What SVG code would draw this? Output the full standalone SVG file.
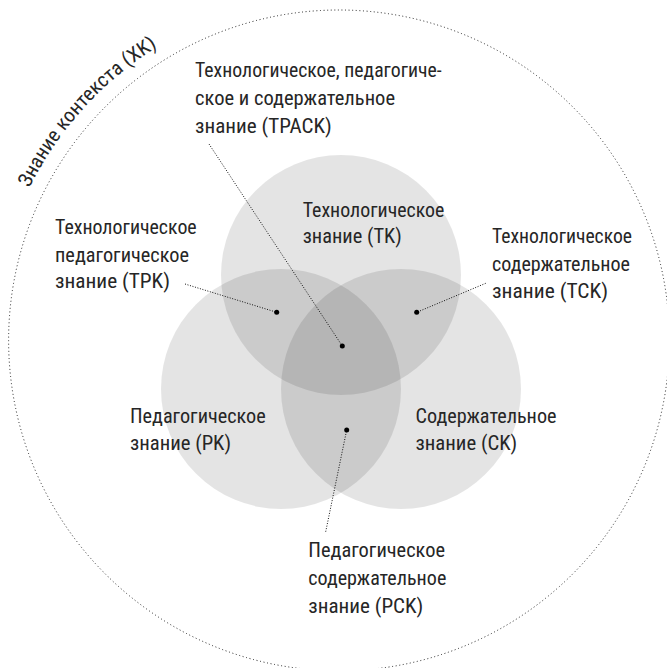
<svg xmlns="http://www.w3.org/2000/svg" width="667" height="668" viewBox="0 0 667 668">
<style>
  .t { font-family: 'Liberation Sans Narrow', 'Roboto Condensed', 'DejaVu Sans Condensed', 'Liberation Sans', sans-serif; font-size: 20px; fill: #262626; }
  .set { fill: #000; fill-opacity: 0.106; stroke: none; }
  .lead { fill: none; stroke: #111; stroke-width: 1; stroke-dasharray: 1 1.6; }
  .dot { fill: #000; }
  .ctx { fill: none; stroke: #222; stroke-width: 1; stroke-dasharray: 1 2.6; }
</style>
<defs>
  <path id="arcPath" d="M 29.4 188.1 A 345 345 0 0 1 221 16.2"/>
</defs>
<rect width="667" height="668" fill="#fff"/>

<g id="xk">
  <circle class="ctx" cx="339" cy="340.4" r="330.4"/>
  <text class="t"><textPath href="#arcPath" textLength="193" lengthAdjust="spacingAndGlyphs">Знание контекста (XK)</textPath></text>
</g>

<g id="tk">
  <circle class="set" cx="341" cy="275" r="120"/>
  <text class="t" x="302.7" y="216.7" textLength="141.7" lengthAdjust="spacingAndGlyphs">Технологическое</text>
  <text class="t" x="302.7" y="243.3" textLength="99" lengthAdjust="spacingAndGlyphs">знание (TK)</text>
</g>
<g id="pk">
  <circle class="set" cx="281" cy="389" r="120"/>
  <text class="t" x="130" y="423.3" textLength="135.7" lengthAdjust="spacingAndGlyphs">Педагогическое</text>
  <text class="t" x="130" y="450" textLength="101" lengthAdjust="spacingAndGlyphs">знание (PK)</text>
</g>
<g id="ck">
  <circle class="set" cx="401" cy="389" r="120"/>
  <text class="t" x="415.5" y="423.3" textLength="141" lengthAdjust="spacingAndGlyphs">Содержательное</text>
  <text class="t" x="415.5" y="450" textLength="101.7" lengthAdjust="spacingAndGlyphs">знание (CK)</text>
</g>

<g id="connectors">
  <line class="lead" x1="209" y1="144" x2="342.3" y2="346"/>
  <line class="lead" x1="185" y1="284" x2="276.7" y2="312.3"/>
  <line class="lead" x1="485.7" y1="283.3" x2="416.7" y2="312.3"/>
  <line class="lead" x1="325.7" y1="531.7" x2="346.7" y2="430"/>
  <circle class="dot" cx="342.3" cy="346" r="2.5"/>
  <circle class="dot" cx="276.7" cy="312.3" r="2.5"/>
  <circle class="dot" cx="416.7" cy="312.3" r="2.5"/>
  <circle class="dot" cx="346.7" cy="430" r="2.5"/>
</g>

<g id="tpack">
  <text class="t" x="195" y="76.7" textLength="246.7" lengthAdjust="spacingAndGlyphs">Технологическое, педагогиче-</text>
  <text class="t" x="195" y="105" textLength="200" lengthAdjust="spacingAndGlyphs">ское и содержательное</text>
  <text class="t" x="195" y="133.3" textLength="136.7" lengthAdjust="spacingAndGlyphs">знание (TPACK)</text>
</g>
<g id="tpk">
  <text class="t" x="55" y="234.3" textLength="141.7" lengthAdjust="spacingAndGlyphs">Технологическое</text>
  <text class="t" x="55" y="261.7" textLength="134" lengthAdjust="spacingAndGlyphs">педагогическое</text>
  <text class="t" x="55" y="288.3" textLength="115" lengthAdjust="spacingAndGlyphs">знание (TPK)</text>
</g>
<g id="tck">
  <text class="t" x="492" y="243.3" textLength="140" lengthAdjust="spacingAndGlyphs">Технологическое</text>
  <text class="t" x="492" y="271" textLength="138" lengthAdjust="spacingAndGlyphs">содержательное</text>
  <text class="t" x="492" y="298" textLength="116" lengthAdjust="spacingAndGlyphs">знание (TCK)</text>
</g>
<g id="pck">
  <text class="t" x="308.3" y="556.7" textLength="136.7" lengthAdjust="spacingAndGlyphs">Педагогическое</text>
  <text class="t" x="308.3" y="585" textLength="138" lengthAdjust="spacingAndGlyphs">содержательное</text>
  <text class="t" x="308.3" y="612.7" textLength="115" lengthAdjust="spacingAndGlyphs">знание (PCK)</text>
</g>
</svg>
